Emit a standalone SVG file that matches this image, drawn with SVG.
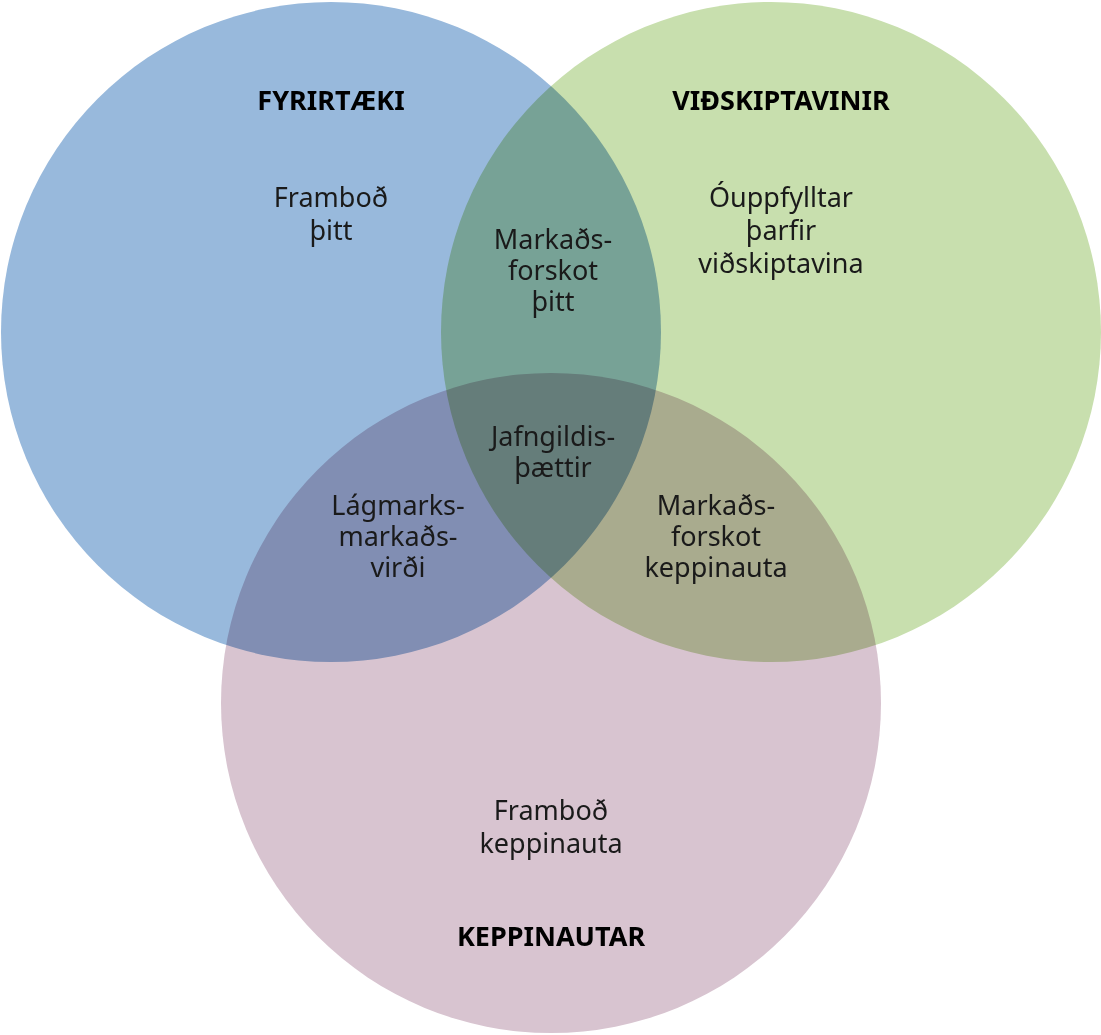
<svg xmlns="http://www.w3.org/2000/svg" width="1101" height="1035" viewBox="0 0 1101 1035">
<style>
.c{mix-blend-mode:multiply}
text{font-family:"Noto Sans","Open Sans",sans-serif;font-size:27px;fill:#1a1a1a;text-anchor:middle}
.t{font-weight:bold;font-size:27px;fill:#000}
</style>
<rect width="1101" height="1035" fill="#fff"/>
<g id="fyrirtaeki"><circle class="c" cx="331" cy="332" r="330" fill="#98b9dc"/></g>
<g id="vidskiptavinir"><circle class="c" cx="771" cy="332" r="330" fill="#c8dfae"/></g>
<g id="keppinautar"><circle class="c" cx="551" cy="703" r="330" fill="#d8c4d0"/></g>
<g id="labels">
<text class="t" x="331" y="110">FYRIRTÆKI</text>
<text class="t" x="781" y="110">VIÐSKIPTAVINIR</text>
<text class="t" x="551" y="946">KEPPINAUTAR</text>
<text x="331" y="207">Framboð<tspan x="331" dy="33">þitt</tspan></text>
<text x="781" y="207">Óuppfylltar<tspan x="781" dy="33">þarfir</tspan><tspan x="781" dy="33">viðskiptavina</tspan></text>
<text x="553" y="249">Markaðs-<tspan x="553" dy="31">forskot</tspan><tspan x="553" dy="31">þitt</tspan></text>
<text x="553" y="446">Jafngildis-<tspan x="553" dy="31">þættir</tspan></text>
<text x="398" y="515">Lágmarks-<tspan x="398" dy="31">markaðs-</tspan><tspan x="398" dy="31">virði</tspan></text>
<text x="716" y="515">Markaðs-<tspan x="716" dy="31">forskot</tspan><tspan x="716" dy="31">keppinauta</tspan></text>
<text x="551" y="820">Framboð<tspan x="551" dy="33">keppinauta</tspan></text>
</g>
</svg>
